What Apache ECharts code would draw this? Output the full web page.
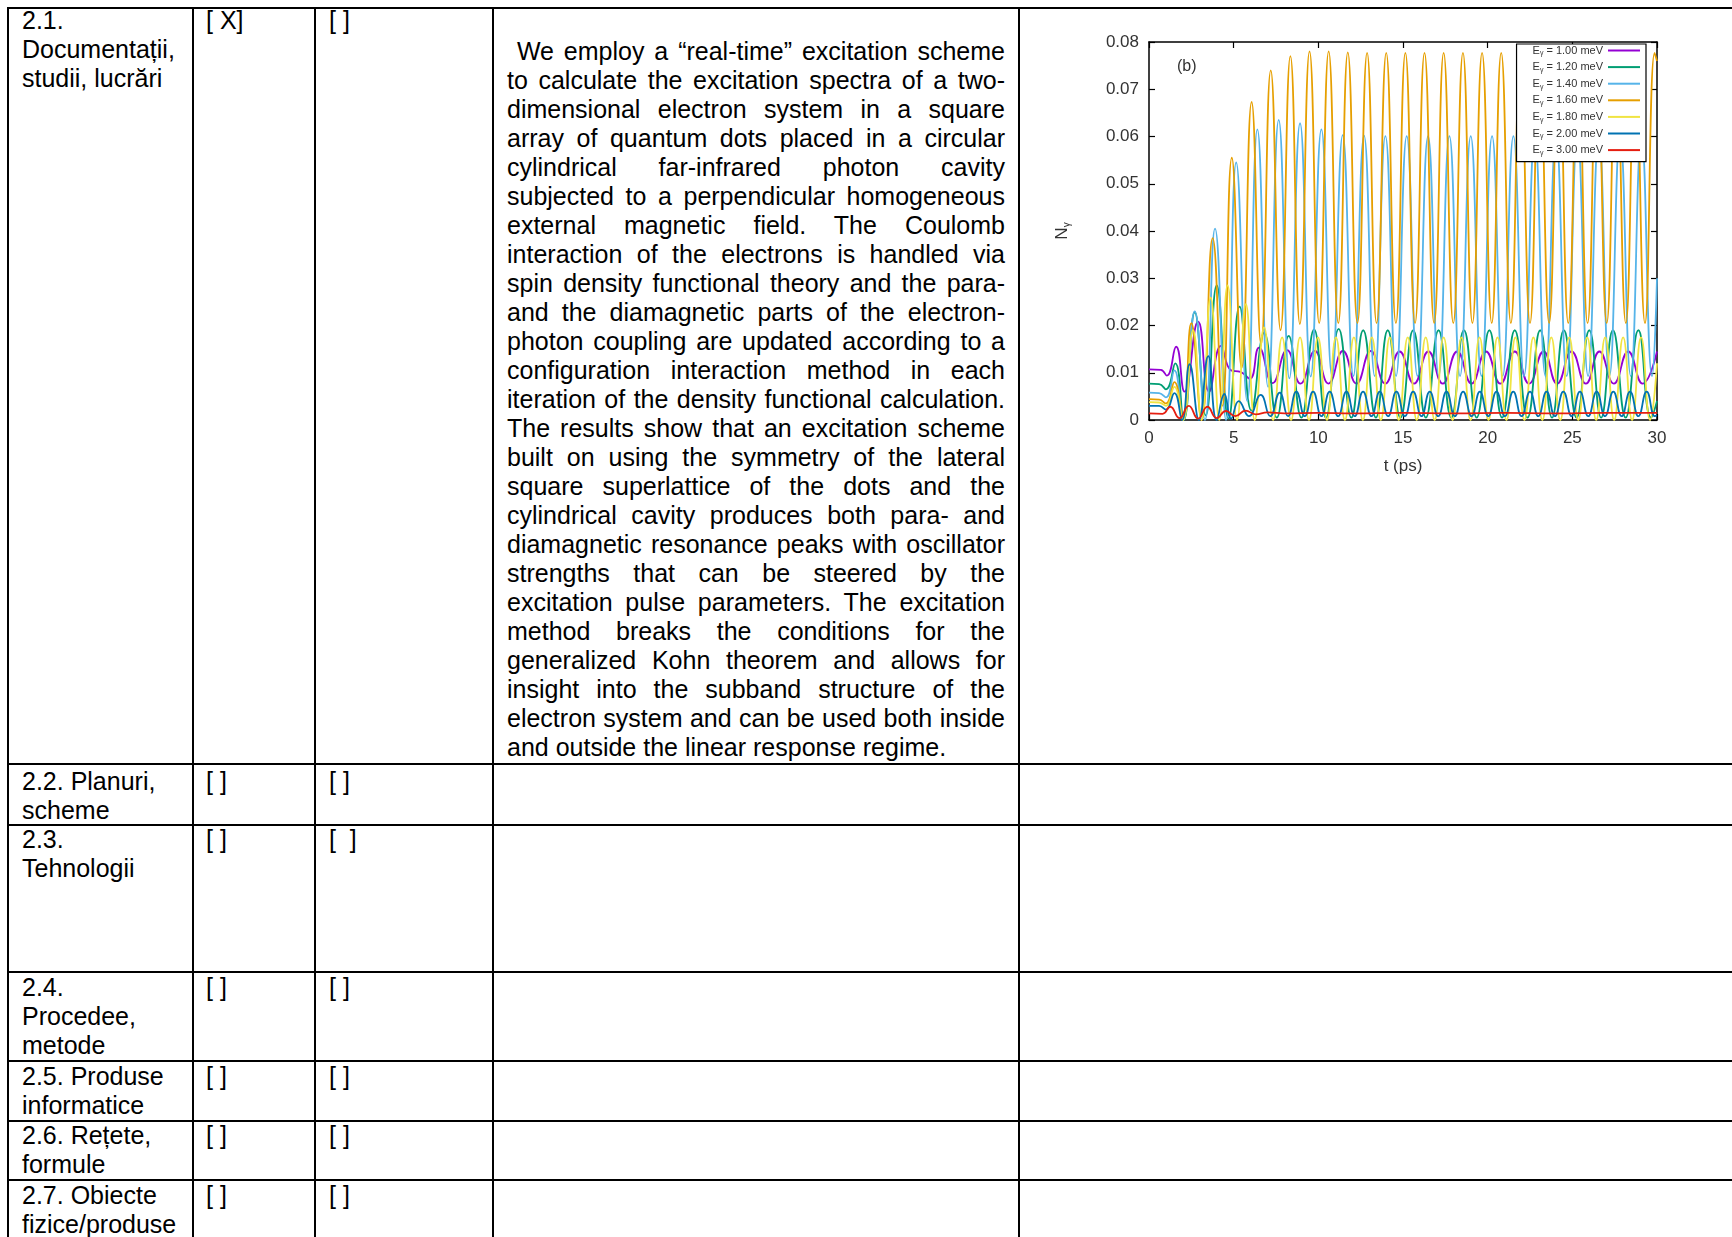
<!DOCTYPE html>
<html>
<head>
<meta charset="utf-8">
<script src="https://cdn.jsdelivr.net/npm/echarts@6/dist/echarts.min.js"></script>
<style>
body { margin: 0; background: #fff; width: 1732px; height: 1237px; overflow: hidden; position: relative;
  font-family: 'Liberation Sans', Arial, sans-serif; font-size: 25px; line-height: 29px; color: #000; }
.hl { position: absolute; left: 7px; right: 0; height: 2px; background: #000; }
.vl { position: absolute; top: 7px; bottom: 0; width: 2px; background: #000; }
.tx { position: absolute; white-space: nowrap; }
#abstract { position: absolute; left: 507px; top: 37px; width: 498px; }
#abstract div { text-align: justify; text-align-last: justify; white-space: nowrap; }
#abstract div.last { text-align-last: left; }
#chart { position: absolute; left: 1030px; top: 20px; width: 690px; height: 470px; }
</style>
</head>
<body>
<div id="table"></div>
<div id="abstract"></div>
<div id="chart"></div>
<script>
// time (ps) vs N_gamma at peaks and troughs
var e100 = [[0,0.0107],[0.7,0.0106],[1.05,0.0094],[1.6,0.0155],[2.1,0.006],[2.9,0.0208],[3.55,0.006],[4.25,0.0157],[4.85,0.0105],[5.4,0.0102],[5.95,0.0087],[6.5,0.0153],[7.3,0.0078],[8.15,0.0148],[8.95,0.0077],[9.8,0.0146],[10.6,0.0077],[11.45,0.0146],[12.25,0.0077],[13.1,0.0146],[13.95,0.0077],[14.8,0.0145],[15.65,0.0077],[16.5,0.0145],[17.35,0.0077],[18.2,0.0145],[19.05,0.0077],[19.9,0.0145],[20.75,0.0077],[21.6,0.0145],[22.45,0.0077],[23.3,0.0145],[24.1,0.0077],[24.95,0.0145],[25.8,0.0077],[26.6,0.0145],[27.45,0.0077],[28.3,0.0145],[29.15,0.0077],[30,0.0145]];
var e120 = [[0,0.0077],[0.6,0.0076],[1.0,0.0065],[1.55,0.012],[2.05,0.0],[2.7,0.0228],[3.35,0.001],[4.0,0.0285],[4.7,0.0003],[5.35,0.024],[6.05,0.002],[6.8,0.0185],[7.55,0.0005],[8.25,0.0178],[9.0,0.0005],[9.75,0.0192],[10.45,0.0005],[11.2,0.0193],[11.95,0.0005],[12.65,0.019],[13.4,0.0005],[14.1,0.019],[14.85,0.0005],[15.6,0.019],[16.35,0.0005],[17.1,0.019],[17.85,0.0005],[18.6,0.019],[19.35,0.0005],[20.1,0.019],[20.85,0.0005],[21.6,0.019],[22.35,0.0005],[23.1,0.019],[23.8,0.0005],[24.5,0.019],[25.25,0.0005],[26.0,0.019],[26.7,0.0005],[27.4,0.019],[28.15,0.0005],[28.9,0.019],[29.65,0.0005],[30,0.004]];
var e140 = [[0,0.0058],[0.6,0.0057],[1.0,0.0048],[1.5,0.0105],[2.0,0.0],[2.7,0.023],[3.3,0.0],[3.9,0.0405],[4.55,0.0],[5.15,0.0545],[5.8,0.004],[6.4,0.0615],[7.03,0.007],[7.66,0.0635],[8.29,0.0088],[8.92,0.0628],[9.55,0.0092],[10.18,0.0615],[10.81,0.0093],[11.44,0.0603],[12.07,0.0093],[12.7,0.0602],[13.33,0.0093],[13.96,0.0601],[14.59,0.0093],[15.22,0.0601],[15.85,0.0093],[16.48,0.0601],[17.11,0.0093],[17.74,0.0601],[18.37,0.0093],[19.0,0.0601],[19.63,0.0093],[20.26,0.0601],[20.89,0.0093],[21.52,0.0601],[22.15,0.0093],[22.78,0.0601],[23.41,0.0093],[24.04,0.0601],[24.67,0.0093],[25.3,0.0601],[25.93,0.0093],[26.56,0.0601],[27.19,0.0093],[27.82,0.0601],[28.45,0.0093],[29.08,0.0601],[29.71,0.0093],[30,0.03]];
var e160 = [[0,0.0044],[0.6,0.0043],[1.0,0.0035],[1.5,0.008],[2.0,0.0],[2.5,0.0205],[3.1,0.0],[3.76,0.0385],[4.33,0.003],[4.89,0.0555],[5.47,0.011],[6.06,0.0673],[6.62,0.016],[7.19,0.074],[7.77,0.019],[8.35,0.077],[8.91,0.0203],[9.48,0.078],[10.05,0.0205],[10.61,0.078],[11.18,0.0205],[11.74,0.0778],[12.31,0.0205],[12.88,0.0777],[13.44,0.0205],[14.01,0.0777],[14.58,0.0205],[15.14,0.0777],[15.71,0.0205],[16.27,0.0777],[16.84,0.0205],[17.4,0.0777],[17.97,0.0205],[18.54,0.0777],[19.1,0.0205],[19.67,0.0777],[20.24,0.0205],[20.8,0.0777],[21.37,0.0205],[21.93,0.0777],[22.5,0.0205],[23.06,0.0777],[23.63,0.0205],[24.2,0.0777],[24.76,0.0205],[25.33,0.0777],[25.9,0.0205],[26.46,0.0777],[27.03,0.0205],[27.59,0.0777],[28.16,0.0205],[28.72,0.0777],[29.29,0.0205],[29.86,0.0777],[30,0.076]];
var e180 = [[0,0.0038],[0.6,0.0037],[1.0,0.003],[1.5,0.007],[2.0,0.0],[2.6,0.019],[3.1,0.0],[3.64,0.0259],[4.15,0.0],[4.64,0.0285],[5.2,0.0],[5.72,0.0245],[6.25,0.0],[6.8,0.0196],[7.33,0.0],[7.86,0.0175],[8.39,0.0],[8.92,0.0175],[9.45,0.0],[9.98,0.0175],[10.51,0],[11.04,0.0175],[11.57,0],[12.1,0.0175],[12.63,0],[13.16,0.0175],[13.69,0],[14.22,0.0175],[14.75,0],[15.28,0.0175],[15.81,0],[16.34,0.0175],[16.87,0],[17.4,0.0175],[17.93,0],[18.46,0.0175],[18.99,0],[19.52,0.0175],[20.05,0],[20.58,0.0175],[21.11,0],[21.64,0.0175],[22.17,0],[22.7,0.0175],[23.23,0],[23.76,0.0175],[24.29,0],[24.82,0.0175],[25.35,0],[25.88,0.0175],[26.41,0],[26.94,0.0175],[27.47,0],[28.0,0.0175],[28.53,0],[29.06,0.0175],[29.59,0],[30,0.012]];
var e200 = [[0,0.003],[0.6,0.003],[1.0,0.0022],[1.5,0.0057],[1.95,0.0],[2.4,0.0118],[2.95,0.0],[3.5,0.0135],[4.0,0.0],[4.45,0.0055],[4.85,0.0003],[5.3,0.004],[5.9,0.0008],[6.6,0.0053],[7.16,0.0008],[7.72,0.0058],[8.21,0.0008],[8.7,0.006],[9.2,0.0008],[9.69,0.006],[10.18,0.0008],[10.67,0.006],[11.17,0.0008],[11.66,0.006],[12.15,0.0008],[12.64,0.006],[13.14,0.0008],[13.63,0.006],[14.12,0.0008],[14.61,0.006],[15.11,0.0008],[15.6,0.006],[16.09,0.0008],[16.58,0.006],[17.08,0.0008],[17.57,0.006],[18.06,0.0008],[18.55,0.006],[19.05,0.0008],[19.54,0.006],[20.03,0.0008],[20.52,0.006],[21.02,0.0008],[21.51,0.006],[22.0,0.0008],[22.5,0.006],[22.99,0.0008],[23.48,0.006],[23.97,0.0008],[24.47,0.006],[24.96,0.0008],[25.45,0.006],[25.94,0.0008],[26.44,0.006],[26.93,0.0008],[27.42,0.006],[27.91,0.0008],[28.41,0.006],[28.9,0.0008],[29.39,0.006],[29.88,0.0008],[30,0.001]];
var e300 = [[0,0.0014],[0.8,0.0013],[1.25,0.0028],[1.8,0.0004],[2.35,0.003],[2.9,0.0003],[3.45,0.0028],[4.0,0.0004],[4.55,0.0019],[5.1,0.0008],[5.7,0.002],[6.3,0.0012],[7.0,0.0016],[8,0.0014],[10,0.0015],[12,0.0014],[15,0.0015],[18,0.0014],[21,0.0015],[24,0.0014],[27,0.0015],[30,0.0015]];

var seriesNames = ['Eγ = 1.00 meV', 'Eγ = 1.20 meV', 'Eγ = 1.40 meV', 'Eγ = 1.60 meV', 'Eγ = 1.80 meV', 'Eγ = 2.00 meV', 'Eγ = 3.00 meV'];
var seriesData = [e100, e120, e140, e160, e180, e200, e300];
var colorList = ['#9400d3', '#009e73', '#56b4e9', '#e69f00', '#f0e442', '#0072b2', '#e51e10'];

var xTicks = { min: 0, max: 30, interval: 5 };
var yTicks = { min: 0, max: 0.08, interval: 0.01 };

// left table column texts
var rowLabels = [
	['2.1.', 'Documentații,', 'studii, lucrări'],
	['2.2. Planuri,', 'scheme'],
	['2.3.', 'Tehnologii'],
	['2.4.', 'Procedee,', 'metode'],
	['2.5. Produse', 'informatice'],
	['2.6. Rețete,', 'formule'],
	['2.7. Obiecte', 'fizice/produse']
];
var colA = ['[ X]', '[ ]', '[ ]', '[ ]', '[ ]', '[ ]', '[ ]'];
var colB = ['[ ]', '[ ]', '[\u00a0 ]', '[ ]', '[ ]', '[ ]', '[ ]'];

var abstractLines = [
	'\u00a0We employ a \u201creal-time\u201d excitation scheme',
	'to calculate the excitation spectra of a two-',
	'dimensional electron system in a square',
	'array of quantum dots placed in a circular',
	'cylindrical far-infrared photon cavity',
	'subjected to a perpendicular homogeneous',
	'external magnetic field. The Coulomb',
	'interaction of the electrons is handled via',
	'spin density functional theory and the para-',
	'and the diamagnetic parts of the electron-',
	'photon coupling are updated according to a',
	'configuration interaction method in each',
	'iteration of the density functional calculation.',
	'The results show that an excitation scheme',
	'built on using the symmetry of the lateral',
	'square superlattice of the dots and the',
	'cylindrical cavity produces both para- and',
	'diamagnetic resonance peaks with oscillator',
	'strengths that can be steered by the',
	'excitation pulse parameters. The excitation',
	'method breaks the conditions for the',
	'generalized Kohn theorem and allows for',
	'insight into the subband structure of the',
	'electron system and can be used both inside',
	'and outside the linear response regime.'
];

function buildTable() {
	var rowTops = [7, 763, 824, 971, 1060, 1120, 1179];
	var textTops = [6, 767, 825, 973, 1062, 1121, 1181];
	var colLefts = [7, 192, 314, 492, 1018];
	var html = '';
	rowTops.forEach(function(y) {
		html += '<div class="hl" style="top:' + y + 'px"></div>';
	});
	colLefts.forEach(function(x) {
		html += '<div class="vl" style="left:' + x + 'px"></div>';
	});
	for (var i = 0; i < rowLabels.length; i++) {
		html += '<div class="tx" style="left:22px;top:' + textTops[i] + 'px">' + rowLabels[i].join('<br>') + '</div>';
		html += '<div class="tx" style="left:206px;top:' + textTops[i] + 'px">' + colA[i] + '</div>';
		html += '<div class="tx" style="left:329px;top:' + textTops[i] + 'px">' + colB[i] + '</div>';
	}
	document.getElementById('table').innerHTML = html;

	var abs = '';
	abstractLines.forEach(function(line, k) {
		abs += '<div' + (k === abstractLines.length - 1 ? ' class="last"' : '') + '>' + line + '</div>';
	});
	document.getElementById('abstract').innerHTML = abs;
}

function initEcharts() {
	var myChart = echarts.init(document.getElementById('chart'));
	var axisFont = { fontFamily: 'Liberation Sans, Arial', fontSize: 17, color: '#333' };
	var frameLine = { show: true, onZero: false, lineStyle: { color: '#000', width: 1.5 } };

	var series = [];
	for (var i = 0; i < seriesData.length; i++) {
		series.push({
			name: seriesNames[i],
			type: 'line',
			data: seriesData[i],
			smooth: 0.5,
			symbol: 'none',
			lineStyle: { color: colorList[i], width: 1.8 },
			itemStyle: { color: colorList[i] },
			xAxisIndex: 0,
			yAxisIndex: 0
		});
	}

	var option = {
		animation: false,
		backgroundColor: '#fff',
		title: {
			text: '(b)',
			left: 142,
			top: 34,
			textStyle: { fontFamily: 'Liberation Sans, Arial', fontSize: 16, fontWeight: 'normal', color: '#333' }
		},
		grid: { left: 119, right: 63, top: 22, bottom: 70 },
		legend: {
			orient: 'vertical',
			right: 74,
			top: 24,
			align: 'right',
			icon: 'rect',
			itemWidth: 32,
			itemHeight: 2,
			itemGap: 4.6,
			padding: [1, 6, 5, 16],
			borderColor: '#000',
			borderWidth: 1.2,
			backgroundColor: '#fff',
			data: seriesNames,
			formatter: function(name) {
				return '{a|E}{s|γ}{a|' + name.slice(2) + '}';
			},
			textStyle: {
				color: '#333',
				rich: {
					a: { fontFamily: 'Liberation Sans, Arial', fontSize: 11, lineHeight: 13, color: '#333' },
					s: { fontFamily: 'Liberation Sans, Arial', fontSize: 7, lineHeight: 8, verticalAlign: 'bottom', color: '#333' }
				}
			}
		},
		xAxis: [{
			type: 'value',
			min: xTicks.min, max: xTicks.max, interval: xTicks.interval,
			name: 't (ps)',
			nameLocation: 'middle',
			nameGap: 38,
			nameTextStyle: axisFont,
			axisLine: frameLine,
			axisTick: { show: true, inside: true, length: 6, lineStyle: { color: '#000', width: 1.2 } },
			axisLabel: Object.assign({ margin: 10 }, axisFont),
			splitLine: { show: false }
		}, {
			type: 'value',
			position: 'top',
			min: xTicks.min, max: xTicks.max, interval: xTicks.interval,
			axisLine: frameLine,
			axisTick: { show: true, inside: true, length: 6, lineStyle: { color: '#000', width: 1.2 } },
			axisLabel: { show: false },
			splitLine: { show: false }
		}],
		yAxis: [{
			type: 'value',
			min: yTicks.min, max: yTicks.max, interval: yTicks.interval,
			name: '{n|N}{s|γ}',
			nameLocation: 'middle',
			nameGap: 77,
			nameTextStyle: {
				rich: {
					n: { fontFamily: 'Liberation Sans, Arial', fontSize: 17, color: '#333' },
					s: { fontFamily: 'Liberation Sans, Arial', fontSize: 10, color: '#333', padding: [9, 0, 0, 0] }
				}
			},
			axisLine: frameLine,
			axisTick: { show: true, inside: true, length: 6, lineStyle: { color: '#000', width: 1.2 } },
			axisLabel: Object.assign({ margin: 10 }, axisFont),
			splitLine: { show: false }
		}, {
			type: 'value',
			position: 'right',
			min: yTicks.min, max: yTicks.max, interval: yTicks.interval,
			axisLine: frameLine,
			axisTick: { show: true, inside: true, length: 6, lineStyle: { color: '#000', width: 1.2 } },
			axisLabel: { show: false },
			splitLine: { show: false }
		}],
		series: series
	};
	myChart.setOption(option);
}

buildTable();
initEcharts();
</script>
</body>
</html>
